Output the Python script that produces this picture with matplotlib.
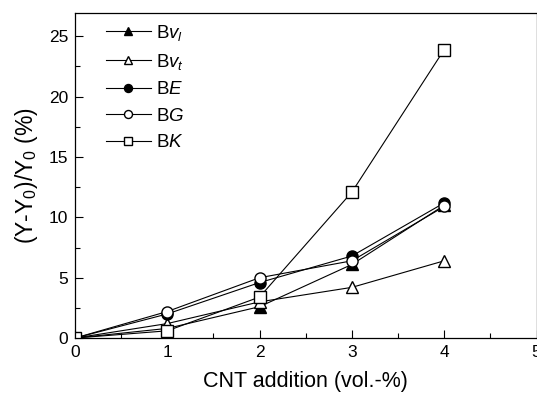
import matplotlib
matplotlib.use('Agg')
import matplotlib.pyplot as plt
from matplotlib.ticker import MultipleLocator

plt.rcParams['font.family'] = ['Liberation Sans', 'DejaVu Sans']
plt.rcParams['mathtext.fontset'] = 'custom'
plt.rcParams['mathtext.rm'] = 'Liberation Sans'
plt.rcParams['mathtext.it'] = 'Liberation Sans:italic'

# CNT addition (vol.-%)
cnt = [0, 1, 2, 3, 4]

# relative change (%) per property
bv_l = [0, 0.8, 2.6, 6.1, 11.0]
bv_t = [0, 1.2, 3.0, 4.2, 6.4]
b_e = [0, 2.0, 4.6, 6.8, 11.2]
b_g = [0, 2.2, 5.0, 6.4, 10.9]
b_k = [0, 0.6, 3.4, 12.1, 23.9]

labels = [r'B$\it{v}_{\it{l}}$', r'B$\it{v}_{\it{t}}$', r'B$\it{E}$', r'B$\it{G}$', r'B$\it{K}$']

fig = plt.figure(figsize=(5.37, 3.94), dpi=100)
ax = fig.add_axes([0.1397, 0.142, 0.8594, 0.824])

ms = 8
ax.plot(cnt, bv_l, color='black', lw=0.8, marker='^', ms=ms, mfc='black', mec='black', label=labels[0])
ax.plot(cnt, bv_t, color='black', lw=0.8, marker='^', ms=ms, mfc='white', mec='black', label=labels[1])
ax.plot(cnt, b_e, color='black', lw=0.8, marker='o', ms=ms, mfc='black', mec='black', label=labels[2])
ax.plot(cnt, b_g, color='black', lw=0.8, marker='o', ms=ms, mfc='white', mec='black', label=labels[3])
ax.plot(cnt, b_k, color='black', lw=0.8, marker='s', ms=ms, mfc='white', mec='black', label=labels[4])

ax.set_xlim(0, 5)
ax.set_ylim(0, 26.9)
ax.xaxis.set_major_locator(MultipleLocator(1))
ax.xaxis.set_minor_locator(MultipleLocator(0.5))
ax.yaxis.set_major_locator(MultipleLocator(5))
ax.yaxis.set_minor_locator(MultipleLocator(2.5))
ax.tick_params(which='both', direction='in', labelsize=12.5, width=0.8)
ax.tick_params(which='major', length=5.5, pad=5)
ax.tick_params(which='minor', length=3.5)
for sp in ax.spines.values():
    sp.set_linewidth(0.9)

ax.set_xlabel('CNT addition (vol.-%)', fontsize=15.5, labelpad=8)
ax.set_ylabel('(Y-Y$_0$)/Y$_0$ (%)', fontsize=16.5, labelpad=6)

ax.legend(loc='upper left', frameon=False, fontsize=13.5, handlelength=2.4,
          handletextpad=0.27, labelspacing=0.5, markerscale=0.72,
          borderaxespad=0.0, bbox_to_anchor=(0.05, 0.995))

fig.savefig('out.png', dpi=100)
